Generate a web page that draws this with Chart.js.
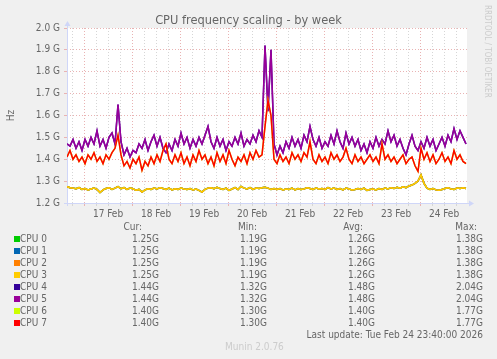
<!DOCTYPE html>
<html>
<head>
<meta charset="utf-8">
<script src="https://cdn.jsdelivr.net/npm/chart.js@4.4.1/dist/chart.umd.min.js"></script>
<style>
  body { margin: 0; background: #f0f0f0; font-family: "DejaVu Sans Condensed", "DejaVu Sans", sans-serif; color: #666; }
  #wrap { position: relative; width: 497px; height: 359px; overflow: hidden; }
  #chart { position: absolute; left: 0; top: 0; }
  #title { position: absolute; left: 0; width: 497px; top: 12px; text-align: center; font-size: 12.7px; line-height: 16px; }
  .t { position: absolute; font-size: 10px; line-height: 12px; white-space: nowrap; }
  .sq { position: absolute; width: 6px; height: 6px; }
  #rrd { position: absolute; left: 483px; top: 5px; font-size: 8px; color: #ccc; writing-mode: vertical-rl; white-space: nowrap; }
</style>
</head>
<body>
<div id="wrap">
  <canvas id="chart" width="497" height="359"></canvas>
  <div id="title">CPU frequency scaling - by week</div>
  <div id="rrd">RRDTOOL / TOBI OETIKER</div>
</div>
<script>
// ==================== Data ====================

// samples every 1.5 h, first one at Feb 16 15:30 (hours counted from Feb 16 00:00)
const startHour = 15.5;
const stepHours = 1.5;

const dayLabels = ['17 Feb', '18 Feb', '19 Feb', '20 Feb', '21 Feb', '22 Feb', '23 Feb', '24 Feb'];

// GHz, CPU 0..3 draw the same curve
const cpu0to3 = [
    1.275, 1.27, 1.268, 1.265, 1.27, 1.262, 1.266, 1.26, 1.264, 1.268,
    1.262, 1.248, 1.26, 1.266, 1.27, 1.262, 1.268, 1.275, 1.265, 1.27,
    1.262, 1.268, 1.265, 1.258, 1.262, 1.25, 1.26, 1.265, 1.262, 1.268,
    1.264, 1.27, 1.266, 1.262, 1.268, 1.26, 1.265, 1.262, 1.268, 1.264,
    1.262, 1.266, 1.26, 1.264, 1.258, 1.25, 1.262, 1.268, 1.27, 1.265,
    1.272, 1.266, 1.262, 1.268, 1.258, 1.264, 1.27, 1.262, 1.276, 1.268,
    1.264, 1.27, 1.262, 1.268, 1.266, 1.27, 1.272, 1.268, 1.262, 1.266,
    1.262, 1.266, 1.26, 1.264, 1.262, 1.268, 1.26, 1.266, 1.262, 1.264,
    1.27, 1.266, 1.262, 1.268, 1.264, 1.266, 1.262, 1.27, 1.264, 1.268,
    1.262, 1.266, 1.26, 1.268, 1.264, 1.26, 1.262, 1.266, 1.262, 1.268,
    1.258, 1.262, 1.264, 1.26, 1.266, 1.262, 1.268, 1.264, 1.27, 1.266,
    1.272, 1.268, 1.274, 1.27, 1.278, 1.282, 1.29, 1.30, 1.328, 1.29,
    1.268, 1.262, 1.266, 1.26, 1.258, 1.262, 1.266, 1.27, 1.264, 1.262,
    1.268, 1.266, 1.27, 1.266
];

// CPU 4 and 5
const cpu4to5 = [
    1.47, 1.46, 1.49, 1.45, 1.48, 1.44, 1.49, 1.46, 1.50, 1.47,
    1.53, 1.46, 1.49, 1.45, 1.50, 1.52, 1.47, 1.65, 1.48, 1.42,
    1.45, 1.41, 1.44, 1.43, 1.47, 1.45, 1.49, 1.44, 1.48, 1.51,
    1.46, 1.50, 1.45, 1.43, 1.47, 1.44, 1.49, 1.46, 1.52, 1.47,
    1.50, 1.45, 1.49, 1.46, 1.50, 1.47, 1.51, 1.55, 1.48, 1.45,
    1.50, 1.46, 1.49, 1.44, 1.48, 1.46, 1.50, 1.47, 1.52, 1.46,
    1.49, 1.47, 1.51, 1.48, 1.53, 1.50, 1.92, 1.62, 1.90, 1.47,
    1.42, 1.46, 1.43, 1.48, 1.45, 1.50, 1.46, 1.49, 1.45, 1.51,
    1.48, 1.55, 1.49, 1.46, 1.50, 1.45, 1.48, 1.46, 1.51, 1.47,
    1.53, 1.48, 1.45, 1.52, 1.47, 1.50, 1.46, 1.49, 1.44, 1.47,
    1.43, 1.48, 1.45, 1.50, 1.46, 1.49, 1.47, 1.53, 1.48, 1.51,
    1.46, 1.49, 1.45, 1.42, 1.47, 1.51, 1.46, 1.44, 1.48, 1.45,
    1.50, 1.46, 1.49, 1.44, 1.47, 1.50, 1.46, 1.51, 1.48, 1.54,
    1.49, 1.53, 1.50, 1.47
];

// CPU 6 and 7
const cpu6to7 = [
    1.41, 1.44, 1.40, 1.42, 1.39, 1.41, 1.38, 1.42, 1.40, 1.43,
    1.39, 1.41, 1.38, 1.42, 1.40, 1.43, 1.45, 1.51, 1.42, 1.37,
    1.39, 1.36, 1.40, 1.38, 1.41, 1.35, 1.39, 1.37, 1.41, 1.38,
    1.42, 1.39, 1.44, 1.47, 1.40, 1.38, 1.42, 1.39, 1.43, 1.38,
    1.41, 1.37, 1.42, 1.39, 1.44, 1.40, 1.42, 1.38, 1.41, 1.37,
    1.43, 1.39, 1.42, 1.38, 1.44, 1.40, 1.37, 1.41, 1.39, 1.42,
    1.38, 1.43, 1.40, 1.44, 1.41, 1.42, 1.55, 1.67, 1.60, 1.40,
    1.38, 1.42, 1.39, 1.41, 1.38, 1.43, 1.40, 1.42, 1.39, 1.43,
    1.41, 1.48, 1.40, 1.38, 1.42, 1.39, 1.41, 1.38, 1.43, 1.40,
    1.42, 1.39, 1.41, 1.45, 1.40, 1.38, 1.42, 1.39, 1.41, 1.38,
    1.40, 1.42, 1.39, 1.41, 1.38, 1.47, 1.40, 1.42, 1.39, 1.41,
    1.38, 1.40, 1.42, 1.38, 1.40, 1.41, 1.37, 1.345, 1.45, 1.40,
    1.43, 1.39, 1.42, 1.38, 1.40, 1.43, 1.39, 1.41, 1.38, 1.44,
    1.40, 1.42, 1.39, 1.38
];

const cpuNames = ['CPU 0', 'CPU 1', 'CPU 2', 'CPU 3', 'CPU 4', 'CPU 5', 'CPU 6', 'CPU 7'];
const cpuColors = ['#00cc00', '#0066b3', '#ff8000', '#ffcc00', '#330099', '#990099', '#ccff00', '#ff0000'];
const cpuSeries = [cpu0to3, cpu0to3, cpu0to3, cpu0to3, cpu4to5, cpu4to5, cpu6to7, cpu6to7];

const curValues = ['1.25G', '1.25G', '1.25G', '1.25G', '1.44G', '1.44G', '1.40G', '1.40G'];
const minValues = ['1.19G', '1.19G', '1.19G', '1.19G', '1.32G', '1.32G', '1.30G', '1.30G'];
const avgValues = ['1.26G', '1.26G', '1.26G', '1.26G', '1.48G', '1.48G', '1.40G', '1.40G'];
const maxValues = ['1.38G', '1.38G', '1.38G', '1.38G', '2.04G', '2.04G', '1.77G', '1.77G'];

const lastUpdate = 'Last update: Tue Feb 24 23:40:00 2026';
const version = 'Munin 2.0.76';

// ==================== Chart ====================

const fontFamily = '"DejaVu Sans Condensed", "DejaVu Sans", sans-serif';
const textColor = '#666666';
const majorGrid = '#e9b3b3';
const minorGrid = '#d6d6d6';
const axisColor = '#cfd6f8';

const toPoints = values => values.map((v, i) => ({ x: startHour + i * stepHours, y: v }));

const plotBackground = {
    id: 'plotBackground',
    beforeDraw(chart) {
        const { ctx, chartArea: a } = chart;
        ctx.save();
        ctx.fillStyle = '#ffffff';
        ctx.fillRect(a.left, a.top, a.right - a.left, a.bottom - a.top);
        ctx.restore();
    }
};

// rrdtool style axis lines with small arrow heads
const axisArrows = {
    id: 'axisArrows',
    beforeDatasetsDraw(chart) {
        const { ctx, chartArea: a } = chart;
        ctx.save();
        ctx.strokeStyle = axisColor;
        ctx.fillStyle = axisColor;
        ctx.lineWidth = 1;
        ctx.beginPath();
        ctx.moveTo(a.left - 3, a.bottom + 0.5);
        ctx.lineTo(a.right + 2, a.bottom + 0.5);
        ctx.moveTo(a.left + 0.5, a.bottom + 3);
        ctx.lineTo(a.left + 0.5, a.top - 2);
        ctx.stroke();
        ctx.beginPath();
        ctx.moveTo(a.right + 2, a.bottom - 2.5);
        ctx.lineTo(a.right + 7, a.bottom + 0.5);
        ctx.lineTo(a.right + 2, a.bottom + 3.5);
        ctx.closePath();
        ctx.fill();
        ctx.beginPath();
        ctx.moveTo(a.left - 2.5, a.top - 2);
        ctx.lineTo(a.left + 0.5, a.top - 7);
        ctx.lineTo(a.left + 3.5, a.top - 2);
        ctx.closePath();
        ctx.fill();
        ctx.restore();
    }
};

const datasets = cpuNames.map((name, i) => ({
    label: name,
    data: toPoints(cpuSeries[i]),
    borderColor: cpuColors[i],
    backgroundColor: cpuColors[i],
    borderWidth: 1.5,
    pointRadius: 0,
    tension: 0,
    fill: false,
    order: cpuNames.length - 1 - i
}));

new Chart(document.getElementById('chart'), {
    type: 'line',
    data: { datasets: datasets },
    options: {
        responsive: false,
        animation: false,
        layout: { padding: { left: 0, right: 30, top: 28, bottom: 136 } },
        plugins: {
            legend: { display: false },
            tooltip: { enabled: false },
            title: { display: false }
        },
        scales: {
            x: {
                type: 'linear',
                min: startHour,
                max: startHour + 200,
                afterBuildTicks(axis) {
                    const ticks = [];
                    for (let h = 18; h <= 210; h += 6) ticks.push({ value: h });
                    axis.ticks = ticks;
                },
                afterFit(axis) { axis.height = 20; },
                grid: {
                    color: c => (c.tick && c.tick.value % 24 === 0) ? majorGrid : minorGrid,
                    lineWidth: 1,
                    tickLength: 3
                },
                border: { display: false, dash: [1, 2] },
                ticks: {
                    autoSkip: false,
                    maxRotation: 0,
                    padding: 2,
                    color: textColor,
                    font: { family: fontFamily, size: 10 },
                    callback: v => (v % 24 === 12) ? (dayLabels[(v - 36) / 24] || '') : ''
                }
            },
            y: {
                min: 1.2,
                max: 2.0,
                afterFit(axis) { axis.width = 67; },
                grid: { color: majorGrid, lineWidth: 1, tickLength: 3 },
                border: { display: false, dash: [1, 2] },
                ticks: {
                    stepSize: 0.1,
                    padding: 4,
                    color: textColor,
                    font: { family: fontFamily, size: 10 },
                    callback: v => v.toFixed(1) + ' G'
                },
                title: {
                    display: true,
                    text: 'Hz',
                    color: textColor,
                    font: { family: fontFamily, size: 10 },
                    padding: { top: 5, bottom: 0 }
                }
            }
        }
    },
    plugins: [plotBackground, axisArrows]
});

// ==================== Legend table ====================

const wrap = document.getElementById('wrap');

function addText(text, top, opts) {
    const el = document.createElement('div');
    el.className = 't';
    el.textContent = text;
    el.style.top = top + 'px';
    if (opts.right !== undefined) el.style.right = (497 - opts.right) + 'px';
    else el.style.left = opts.left + 'px';
    if (opts.color) el.style.color = opts.color;
    wrap.appendChild(el);
}

const headerTop = 221;
addText('Cur:', headerTop, { right: 142 });
addText('Min:', headerTop, { right: 257 });
addText('Avg:', headerTop, { right: 363 });
addText('Max:', headerTop, { right: 477 });

cpuNames.forEach((name, i) => {
    const top = 233 + i * 12;
    const sq = document.createElement('div');
    sq.className = 'sq';
    sq.style.left = '14px';
    sq.style.top = (top + 3) + 'px';
    sq.style.background = cpuColors[i];
    wrap.appendChild(sq);
    addText(name, top, { left: 20 });
    addText(curValues[i], top, { right: 159 });
    addText(minValues[i], top, { right: 267 });
    addText(avgValues[i], top, { right: 375 });
    addText(maxValues[i], top, { right: 483 });
});

addText(lastUpdate, 329, { right: 483 });
addText(version, 341, { left: 225, color: '#cccccc' });
</script>
</body>
</html>
